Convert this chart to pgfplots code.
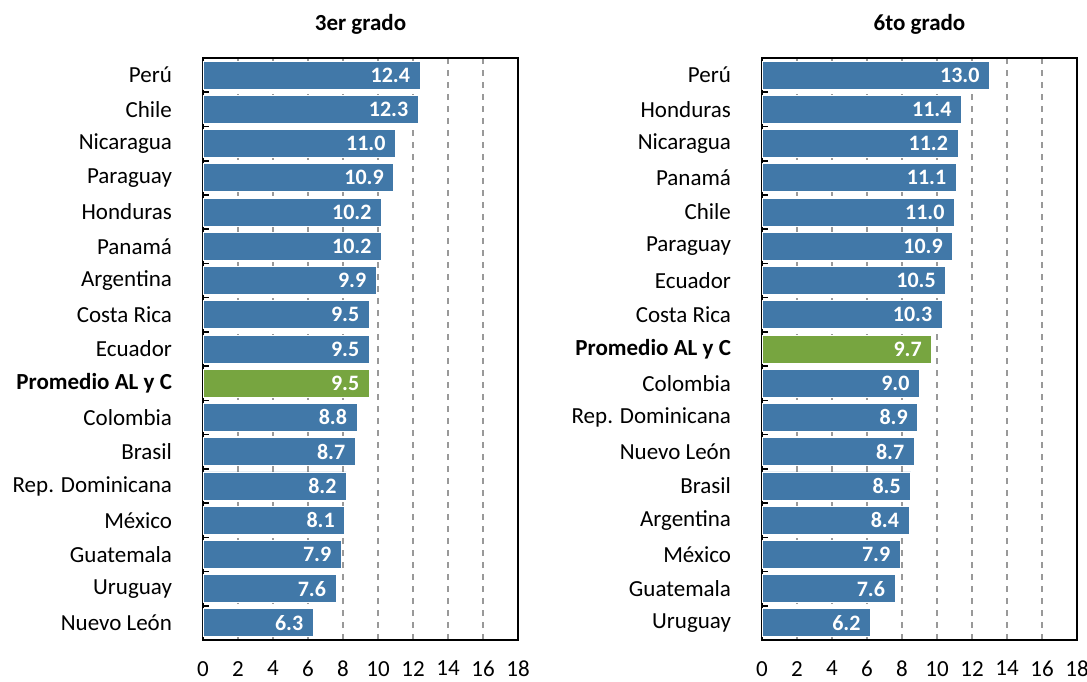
\documentclass[border=0pt]{standalone}
\usepackage{fontspec}
\setmainfont{Carlito}
\usepackage{pgfplots}
\pgfplotsset{compat=1.18}
\definecolor{barblue}{RGB}{65,120,168}
\definecolor{bargreen}{RGB}{119,165,64}
\pgfplotsset{
  panel/.style={
    xbar, bar shift=0pt, bar width=14pt,
    scale only axis, width=157.5pt, height=291pt,
    xmin=0, xmax=18, ymin=-0.5, ymax=16.5, y dir=reverse,
    xtick={0,2,...,18}, ytick={0,...,16},
    minor ytick={0.5,1.5,...,15.5},
    ytick pos=left, xtick pos=bottom,
    major tick length=0pt, minor tick length=3pt,
    tick align=inside,
    xmajorgrids, major grid style={gray!80, dashed, line width=0.8pt},
    axis line style={black, line width=1.1pt},
    every tick/.style={black, line width=0.8pt},
    tick label style={font=\fontsize{11.5}{13}\selectfont},
    xticklabel style={yshift=-7pt},
    yticklabel style={xshift=-12pt},
    title style={font=\fontsize{11.5}{13}\selectfont\bfseries, at={(0.5,1)}, anchor=south, inner sep=0pt, yshift=5.5pt},
    /pgf/number format/assume math mode=true,
    nodes near coords,
    point meta=x,
    nodes near coords style={/pgf/number format/.cd, fixed, fixed zerofill, precision=1, /tikz/.cd,
      anchor=east, xshift=-1.5pt, text=white, font=\fontsize{11}{12}\selectfont\bfseries},
    axis on top=false,
  }
}
\begin{document}
\begin{tikzpicture}
\useasboundingbox (-101.5pt,-20.5pt) rectangle (442pt,320pt);
\begin{axis}[panel, at={(0,0)}, title={3er grado},
  yticklabels={Perú,Chile,Nicaragua,Paraguay,Honduras,Panamá,Argentina,Costa Rica,Ecuador,{\bfseries Promedio AL y C},Colombia,Brasil,Rep. Dominicana,México,Guatemala,Uruguay,Nuevo León}]
\addplot[fill=barblue, draw=white, line width=0.4pt] coordinates {
(12.4,0) (12.3,1) (11.0,2) (10.9,3) (10.2,4) (10.2,5) (9.9,6) (9.5,7) (9.5,8)
(8.8,10) (8.7,11) (8.2,12) (8.1,13) (7.9,14) (7.6,15) (6.3,16)};
\addplot[fill=bargreen, draw=white, line width=0.4pt] coordinates {(9.5,9)};
\end{axis}
\begin{axis}[panel, at={(279.5pt,0)}, title={6to grado},
  yticklabels={Perú,Honduras,Nicaragua,Panamá,Chile,Paraguay,Ecuador,Costa Rica,{\bfseries Promedio AL y C},Colombia,Rep. Dominicana,Nuevo León,Brasil,Argentina,México,Guatemala,Uruguay}]
\addplot[fill=barblue, draw=white, line width=0.4pt] coordinates {
(13.0,0) (11.4,1) (11.2,2) (11.1,3) (11.0,4) (10.9,5) (10.5,6) (10.3,7)
(9.0,9) (8.9,10) (8.7,11) (8.5,12) (8.4,13) (7.9,14) (7.6,15) (6.2,16)};
\addplot[fill=bargreen, draw=white, line width=0.4pt] coordinates {(9.7,8)};
\end{axis}
\end{tikzpicture}
\end{document}
